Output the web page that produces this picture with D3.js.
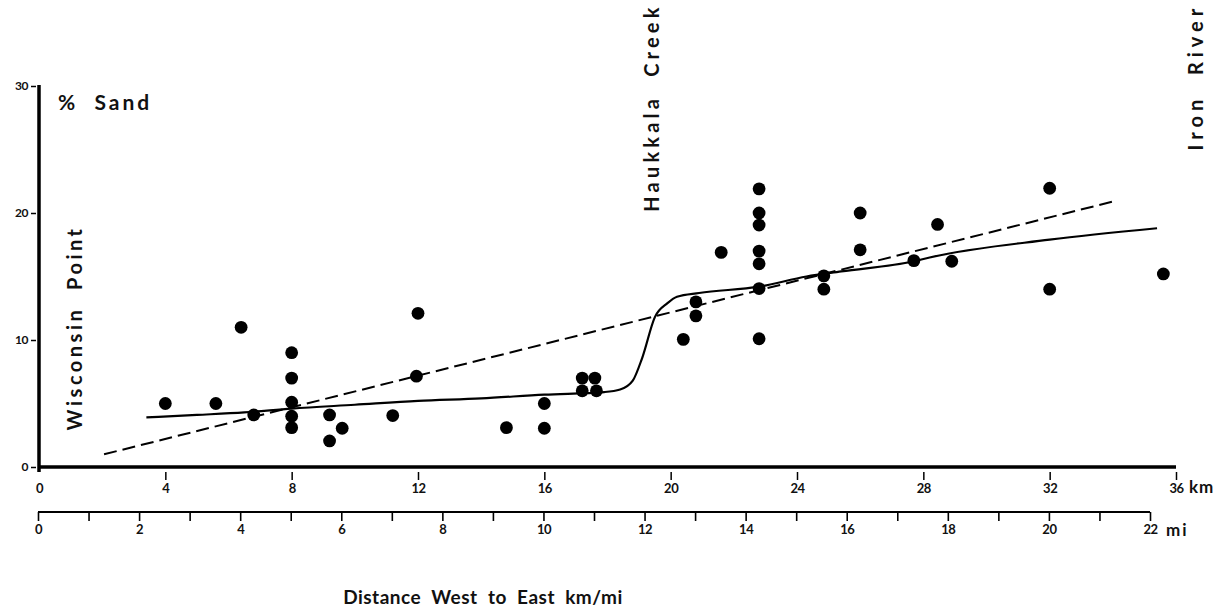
<!DOCTYPE html>
<html><head><meta charset="utf-8">
<script src="https://cdn.jsdelivr.net/npm/d3@7"></script>
<style>
body{margin:0;background:#fff;}
svg{display:block;}
text{font-family:Lato,"DejaVu Sans",sans-serif;font-weight:700;fill:#111;}
</style></head><body>
<svg id="c" width="1227" height="610"></svg>
<script>
// ---- data ----
const sampleKm = [4.0,5.6,6.4,6.8,8.0,8.0,8.0,8.0,8.0,9.2,9.6,9.2,11.2,12.0,11.95,
  14.8,16.0,16.0,17.2,17.6,17.2,17.65,20.4,20.8,20.8,21.6,22.8,22.8,22.8,22.8,22.8,22.8,22.8,
  24.85,24.85,26.0,26.0,27.7,28.45,28.9,32.0,32.0,35.6];
const sampleSand = [5.0,5.0,11.0,4.1,9.0,7.0,5.1,4.0,3.1,4.1,3.05,2.05,4.05,12.1,7.15,
  3.1,5.0,3.05,7.0,7.0,6.0,6.0,10.05,13.0,11.9,16.9,21.9,20.0,19.05,17.0,16.0,14.05,10.1,
  15.05,14.0,20.0,17.1,16.25,19.1,16.2,21.95,14.0,15.2];
const trendKm   = [3.4,5.0,6.5,8.0,10.0,12.0,14.0,16.0,17.9,18.4,18.8,19.1,19.5,19.9,20.2,20.9,22.8,24.3,25.4,27.7,28.2,32.0,35.4];
const trendSand = [3.9,4.1,4.3,4.6,4.9,5.2,5.4,5.7,5.9,6.1,6.8,8.6,11.8,12.9,13.4,13.7,14.2,15.0,15.4,16.2,16.5,17.9,18.8];
const regKm   = [2.06,34.0];
const regSand = [1.0,20.9];
const yTicks  = [0,10,20,30];
const kmTicks = [0,4,8,12,16,20,24,28,32,36];
const miTicks = d3.range(0,23);
const miLabels = [0,2,4,6,8,10,12,14,16,18,20,22];
const placeNames = ["Wisconsin  Point","Haukkala  Creek","Iron  River"];
const placeKm    = [1.14,19.41,36.64];
const placeSand  = [10.95,28.3,30.7];

// ---- scales ----
const svg = d3.select("#c");
const x  = d3.scaleLinear().domain([0,36]).range([39,1176]);
const y  = d3.scaleLinear().domain([0,30]).range([467,86]);
const mi = d3.scaleLinear().domain([0,22]).range([38,1150]);

// y axis
svg.append("line").attr("x1",x(0)).attr("x2",x(0)).attr("y1",y(30)-1).attr("y2",y(0)+5)
  .attr("stroke","#000").attr("stroke-width",3.5);
const ya = svg.append("g").attr("transform",`translate(${x(0)-3},0)`)
  .call(d3.axisLeft(y).tickValues(yTicks).tickSize(5).tickPadding(3));
ya.select(".domain").remove();
ya.selectAll("line").attr("stroke","#000").attr("stroke-width",1.5);
ya.selectAll("text").style("font-size","12px").style("letter-spacing","-0.5px");

// km axis
svg.append("line").attr("x1",x(0)).attr("x2",x(36)).attr("y1",y(0)).attr("y2",y(0))
  .attr("stroke","#000").attr("stroke-width",3.5);
const ka = svg.append("g").attr("transform",`translate(0,${y(0)})`)
  .call(d3.axisBottom(x).tickValues(kmTicks).tickSize(0).tickPadding(17));
ka.select(".domain").remove();
ka.selectAll(".tick").append("line").attr("y1",5).attr("y2",13).attr("stroke","#000").attr("stroke-width",1.5)
  .filter(d=>d===0).remove();
ka.selectAll("text").style("font-size","13px").style("letter-spacing","-0.5px");
svg.append("text").attr("x",x(36)+13).attr("y",y(0)+26).style("font-size","17px").style("letter-spacing","1px").text("km");

// mi axis
const miY = 512;
svg.append("line").attr("x1",mi(0)).attr("x2",mi(22)).attr("y1",miY).attr("y2",miY)
  .attr("stroke","#000").attr("stroke-width",2.2);
const ma = svg.append("g").attr("transform",`translate(0,${miY})`)
  .call(d3.axisBottom(mi).tickValues(miTicks).tickSize(9).tickPadding(4)
    .tickFormat(d=>miLabels.includes(d)?d:""));
ma.select(".domain").remove();
ma.selectAll("line").attr("stroke","#000").attr("stroke-width",1.6);
ma.selectAll("text").style("font-size","13px").style("letter-spacing","-0.5px");
svg.append("text").attr("x",mi(22)+16).attr("y",miY+24).style("font-size","17px").style("letter-spacing","2px").text("mi");

// regression (dashed)
svg.append("path").datum(regKm.map((k,i)=>[k,regSand[i]]))
  .attr("d",d3.line().x(d=>x(d[0])).y(d=>y(d[1])))
  .attr("fill","none").attr("stroke","#000").attr("stroke-width",2).attr("stroke-dasharray","13,6");

// trend (solid)
svg.append("path").datum(trendKm.map((k,i)=>[k,trendSand[i]]))
  .attr("d",d3.line().x(d=>x(d[0])).y(d=>y(d[1])).curve(d3.curveMonotoneX))
  .attr("fill","none").attr("stroke","#000").attr("stroke-width",2.2);

// points
svg.append("g").selectAll("circle").data(sampleKm.map((k,i)=>[k,sampleSand[i]])).join("circle")
  .attr("cx",d=>x(d[0])).attr("cy",d=>y(d[1])).attr("r",6.4).attr("fill","#000");

// labels
svg.append("text").attr("x",58).attr("y",110).style("font-size","21px").style("letter-spacing","3px")
  .attr("xml:space","preserve").text("%  Sand");
const placeSpacing = ["3.5px","4.2px","5px"];
placeNames.forEach((n,i)=>{
  svg.append("text").attr("transform",`translate(${x(placeKm[i])},${y(placeSand[i])}) rotate(-90)`)
    .attr("text-anchor","middle").attr("dy","0.35em")
    .style("font-size","20px").style("letter-spacing",placeSpacing[i]).attr("xml:space","preserve")
    .text(n);
});
svg.append("text").attr("x",483).attr("y",604).attr("text-anchor","middle")
  .style("font-size","19px").style("letter-spacing","0.5px").attr("xml:space","preserve")
  .text("Distance  West  to  East  km/mi");
</script></body></html>
